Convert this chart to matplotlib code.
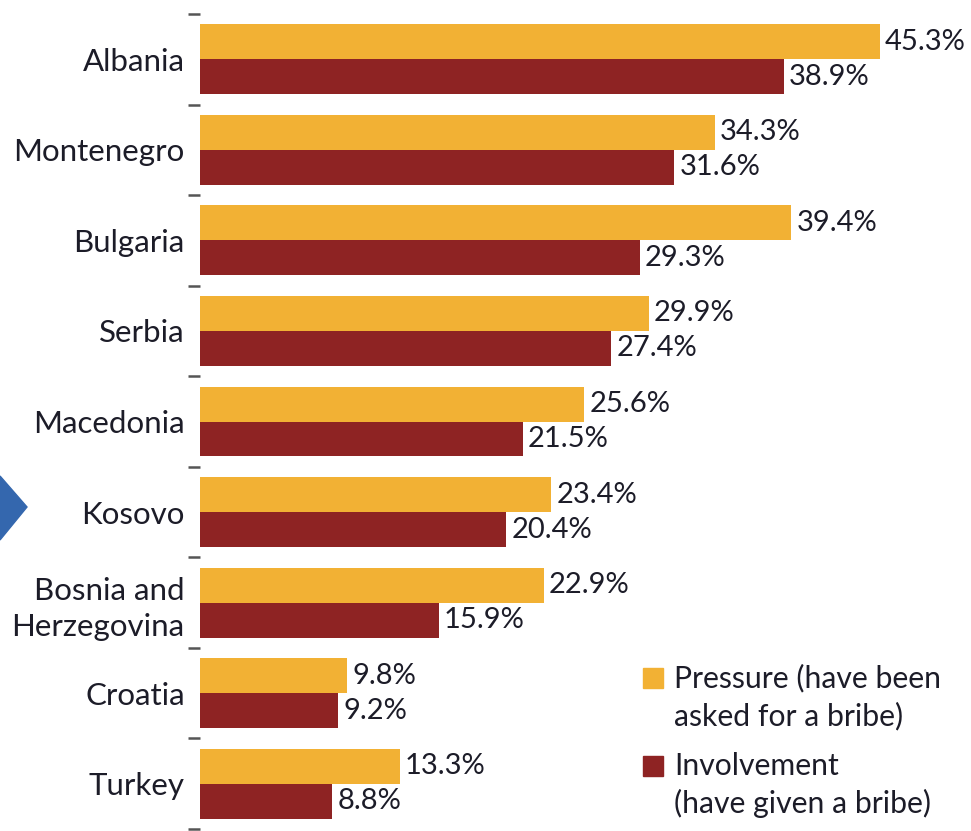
import matplotlib
matplotlib.use("Agg")
import matplotlib.pyplot as plt
from matplotlib.patches import Rectangle, Polygon
import numpy as np

countries = ["Albania", "Montenegro", "Bulgaria", "Serbia", "Macedonia",
             "Kosovo", "Bosnia and\nHerzegovina", "Croatia", "Turkey"]
pressure = [45.3, 34.3, 39.4, 29.9, 25.6, 23.4, 22.9, 9.8, 13.3]
involvement = [38.9, 31.6, 29.3, 27.4, 21.5, 20.4, 15.9, 9.2, 8.8]
legend_labels = ["Pressure (have been\nasked for a bribe)",
                 "Involvement\n(have given a bribe)"]

C_P = "#F2B134"
C_I = "#8E2323"
TXT = "#1c1c28"
FONT = "Lato"
FS = 21

W, H = 971, 831
fig = plt.figure(figsize=(W / 100, H / 100), dpi=100)
ax = fig.add_axes([200 / W, 2 / H, 1 - 200 / W, (817 - 2) / H])

y = np.arange(len(countries))
bh = 0.386
ax.barh(y - bh / 2, pressure, height=bh, color=C_P)
ax.barh(y + bh / 2, involvement, height=bh, color=C_I)

for yi, v in zip(y, pressure):
    ax.annotate(f"{v:.1f}%", (v, yi - bh / 2), xytext=(4, 0), textcoords="offset points",
                va="center", ha="left", fontsize=FS, color=TXT, family=FONT)
for yi, v in zip(y, involvement):
    ax.annotate(f"{v:.1f}%", (v, yi + bh / 2), xytext=(4, 0), textcoords="offset points",
                va="center", ha="left", fontsize=FS, color=TXT, family=FONT)

ax.set_xlim(0, 771 / 15.0)
ax.set_ylim(len(countries) - 0.5, -0.5)
ax.set_yticks(y)
ax.set_yticklabels(countries, fontsize=22.5, color=TXT, family=FONT, linespacing=1.35)
ax.tick_params(axis="y", which="major", length=0, pad=11)
ax.set_yticks(np.arange(-0.5, len(countries)), minor=True)
ax.tick_params(axis="y", which="minor", length=9, width=1.8, color="#555555")
ax.set_xticks([])
for s in ax.spines.values():
    s.set_visible(False)

# legend (manual)
for i, (lab, col) in enumerate(zip(legend_labels, [C_P, C_I])):
    top = 668 + i * 88
    fig.patches.append(Rectangle((643 / W, 1 - (top + 20) / H), 20 / W, 20 / H,
                                 transform=fig.transFigure, color=col))
    fig.text(674 / W, 1 - (top - 4) / H, lab, fontsize=21.7, color=TXT, family=FONT,
             va="top", ha="left", linespacing=1.38)

# blue arrow at left edge
fig.patches.append(Polygon([(0, 1 - 476 / H), (27 / W, 1 - 507 / H), (0, 1 - 540 / H)],
                           closed=True, transform=fig.transFigure, color="#3467AE"))

fig.savefig("out.png", dpi=100)
